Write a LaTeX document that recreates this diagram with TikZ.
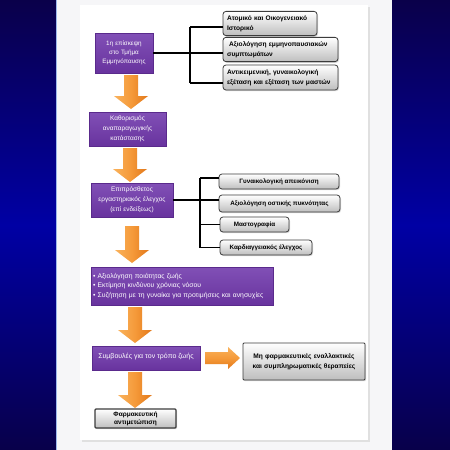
\documentclass[tikz,border=0pt]{standalone}
\usepackage{fontspec}
\setmainfont{Liberation Sans}
\usetikzlibrary{calc,shadows}
\definecolor{bgtop}{HTML}{0A004A}
\definecolor{bgmid}{HTML}{0000A4}
\definecolor{bgbot}{HTML}{08004A}
\definecolor{stripcol}{HTML}{F6F6F8}
\definecolor{stripline}{HTML}{9DB8EC}
\definecolor{purpletop}{HTML}{8150B6}
\definecolor{purplebot}{HTML}{68339E}
\definecolor{purpleedge}{HTML}{5A2A8C}
\definecolor{grayedge}{HTML}{3C3C3C}
\definecolor{graybot}{HTML}{BEBEBE}
\definecolor{orL}{HTML}{F9B25C}
\definecolor{orM}{HTML}{F59A3A}
\definecolor{orR}{HTML}{E2781A}
\newcommand\darr[3]{%
  \shade[left color=orL, right color=orR, middle color=orM]
    (#1-7,#2) -- (#1+7,#2) -- (#1+7,#3-13) -- (#1+17,#3-13) -- (#1,#3)
    -- (#1-17,#3-13) -- (#1-7,#3-13) -- cycle;}
\begin{document}
\begin{tikzpicture}[x=1pt,y=-1pt,
  purplebox/.style={draw=purpleedge, line width=0.6pt, top color=purpletop,
    bottom color=purplebot, text=white, align=center, inner sep=2pt,
    font=\fontsize{6.5}{10}\selectfont,
    drop shadow={opacity=0.3, shadow xshift=1pt, shadow yshift=-1.2pt}},
  graybox/.style={draw=grayedge, line width=0.8pt, rounded corners=3pt,
    top color=white, bottom color=graybot, inner sep=4pt,
    font=\fontsize{6.6}{10}\selectfont\bfseries,
    drop shadow={opacity=0.3, shadow xshift=1pt, shadow yshift=-1.2pt}},
  smallgray/.style={graybox, inner sep=1pt, font=\fontsize{6.3}{8}\selectfont\bfseries},
  bus/.style={line width=1.3pt, black}]
\useasboundingbox (0,0) rectangle (450,450);
% background
\shade[top color=bgtop, bottom color=bgbot, middle color=bgmid] (0,0) rectangle (450,450);
\fill[stripcol] (56,0) rectangle (392,450);
\draw[stripline, line width=1pt] (56.5,0) -- (56.5,450);
\fill[black!12] (82,7) rectangle (370,442);
\fill[white] (80,5) rectangle (368,440);
% purple boxes
\node[purplebox, minimum width=58, minimum height=40, text width=54,
  font=\fontsize{6.3}{9}\selectfont] (P1) at (124,53)
  {1η επίσκεψη\\στο Τμήμα\\Εμμηνόπαυσης};
\node[purplebox, minimum width=77, minimum height=34, text width=73] (P2) at (127.5,129)
  {Καθορισμός\\αναπαραγωγικής\\κατάστασης};
\node[purplebox, minimum width=82, minimum height=34, text width=78] (P3) at (132,200)
  {Επιπρόσθετος\\εργαστηριακός έλεγχος\\(επί ενδείξεως)};
\node[purplebox, minimum width=182, minimum height=38, align=left, text width=178,
  font=\fontsize{6.8}{9.5}\selectfont] (P4) at (182,286)
  {\textbullet\ Αξιολόγηση ποιότητας ζωής\\
   \textbullet\ Εκτίμηση κινδύνου χρόνιας νόσου\\
   \textbullet\ Συζήτηση με τη γυναίκα για προτιμήσεις και ανησυχίες};
\node[purplebox, minimum width=108, minimum height=24,
  font=\fontsize{7}{9}\selectfont] (P5) at (146,358)
  {\raisebox{4pt}{Συμβουλές για τον τρόπο ζωής}};
% gray boxes
\node[graybox, minimum width=94, minimum height=23, text width=86, align=left] (A) at (270,23.5)
  {Ατομικό και Οικογενειακό\\Ιστορικό};
\node[graybox, minimum width=115, minimum height=23, text width=107, align=left] (B) at (280.5,49.5)
  {\ Αξιολόγηση εμμηνοπαυσιακών\\συμπτωμάτων};
\node[graybox, minimum width=115, minimum height=25, text width=107, align=left] (C) at (280.5,77.5)
  {Αντικειμενική, γυναικολογική\\εξέταση και εξέταση των μαστών};
\node[smallgray, minimum width=120, minimum height=15] (D) at (279,181.5)
  {Γυναικολογική απεικόνιση};
\node[smallgray, minimum width=121, minimum height=17] (E) at (279.5,203.5)
  {Αξιολόγηση οστικής πυκνότητας};
\node[smallgray, minimum width=69, minimum height=15] (F) at (254.5,224.5)
  {Μαστογραφία};
\node[smallgray, minimum width=92, minimum height=15] (G) at (266,247.5)
  {Καρδιαγγειακός έλεγχος};
\node[graybox, rounded corners=1pt, minimum width=122, minimum height=37, text width=114,
  align=center] (H) at (304,361.5)
  {Μη φαρμακευτικές εναλλακτικές\\και συμπληρωματικές θεραπείες};
\node[graybox, rounded corners=1pt, line width=1.1pt, minimum width=81, minimum height=19,
  text width=77, align=center, inner sep=1pt, font=\fontsize{6.5}{8}\selectfont\bfseries] (I) at (135.5,418.5)
  {Φαρμακευτική\\αντιμετώπιση};
% bus 1
\coordinate (j1) at (190,53);
\coordinate (t1) at (190,27);
\coordinate (t3) at (190,83);
\draw[bus] (P1.east) -- (j1);
\draw[bus] (t1) -- (t3);
\draw[bus] (t1) -- (t1 -| A.west);
\draw[bus] (j1) -- (j1 -| B.west);
\draw[bus] (t3) -- (t3 -| C.west);
% bus 2
\coordinate (j2) at (200,200);
\coordinate (t4) at (200,178);
\coordinate (t7) at (200,247.5);
\draw[bus] (P3.east) -- (j2);
\draw[bus] (t4) -- (t7);
\draw[bus] (t4) -- (t4 -| D.west);
\draw[bus] (j2) -- (j2 -| E.west);
\draw[bus] (F.west -| j2) -- (F.west);
\draw[bus] (t7) -- (G.west);
% orange arrows
\darr{131}{75}{109}
\darr{130}{148}{182}
\darr{132}{226}{263}
\darr{135}{307}{343}
\darr{135}{372}{408}
\shade[top color=orL, bottom color=orR, middle color=orM]
  (205,352) -- (228,352) -- (228,347) -- (240,358) -- (228,369) -- (228,364) -- (205,364) -- cycle;
\end{tikzpicture}
\end{document}
